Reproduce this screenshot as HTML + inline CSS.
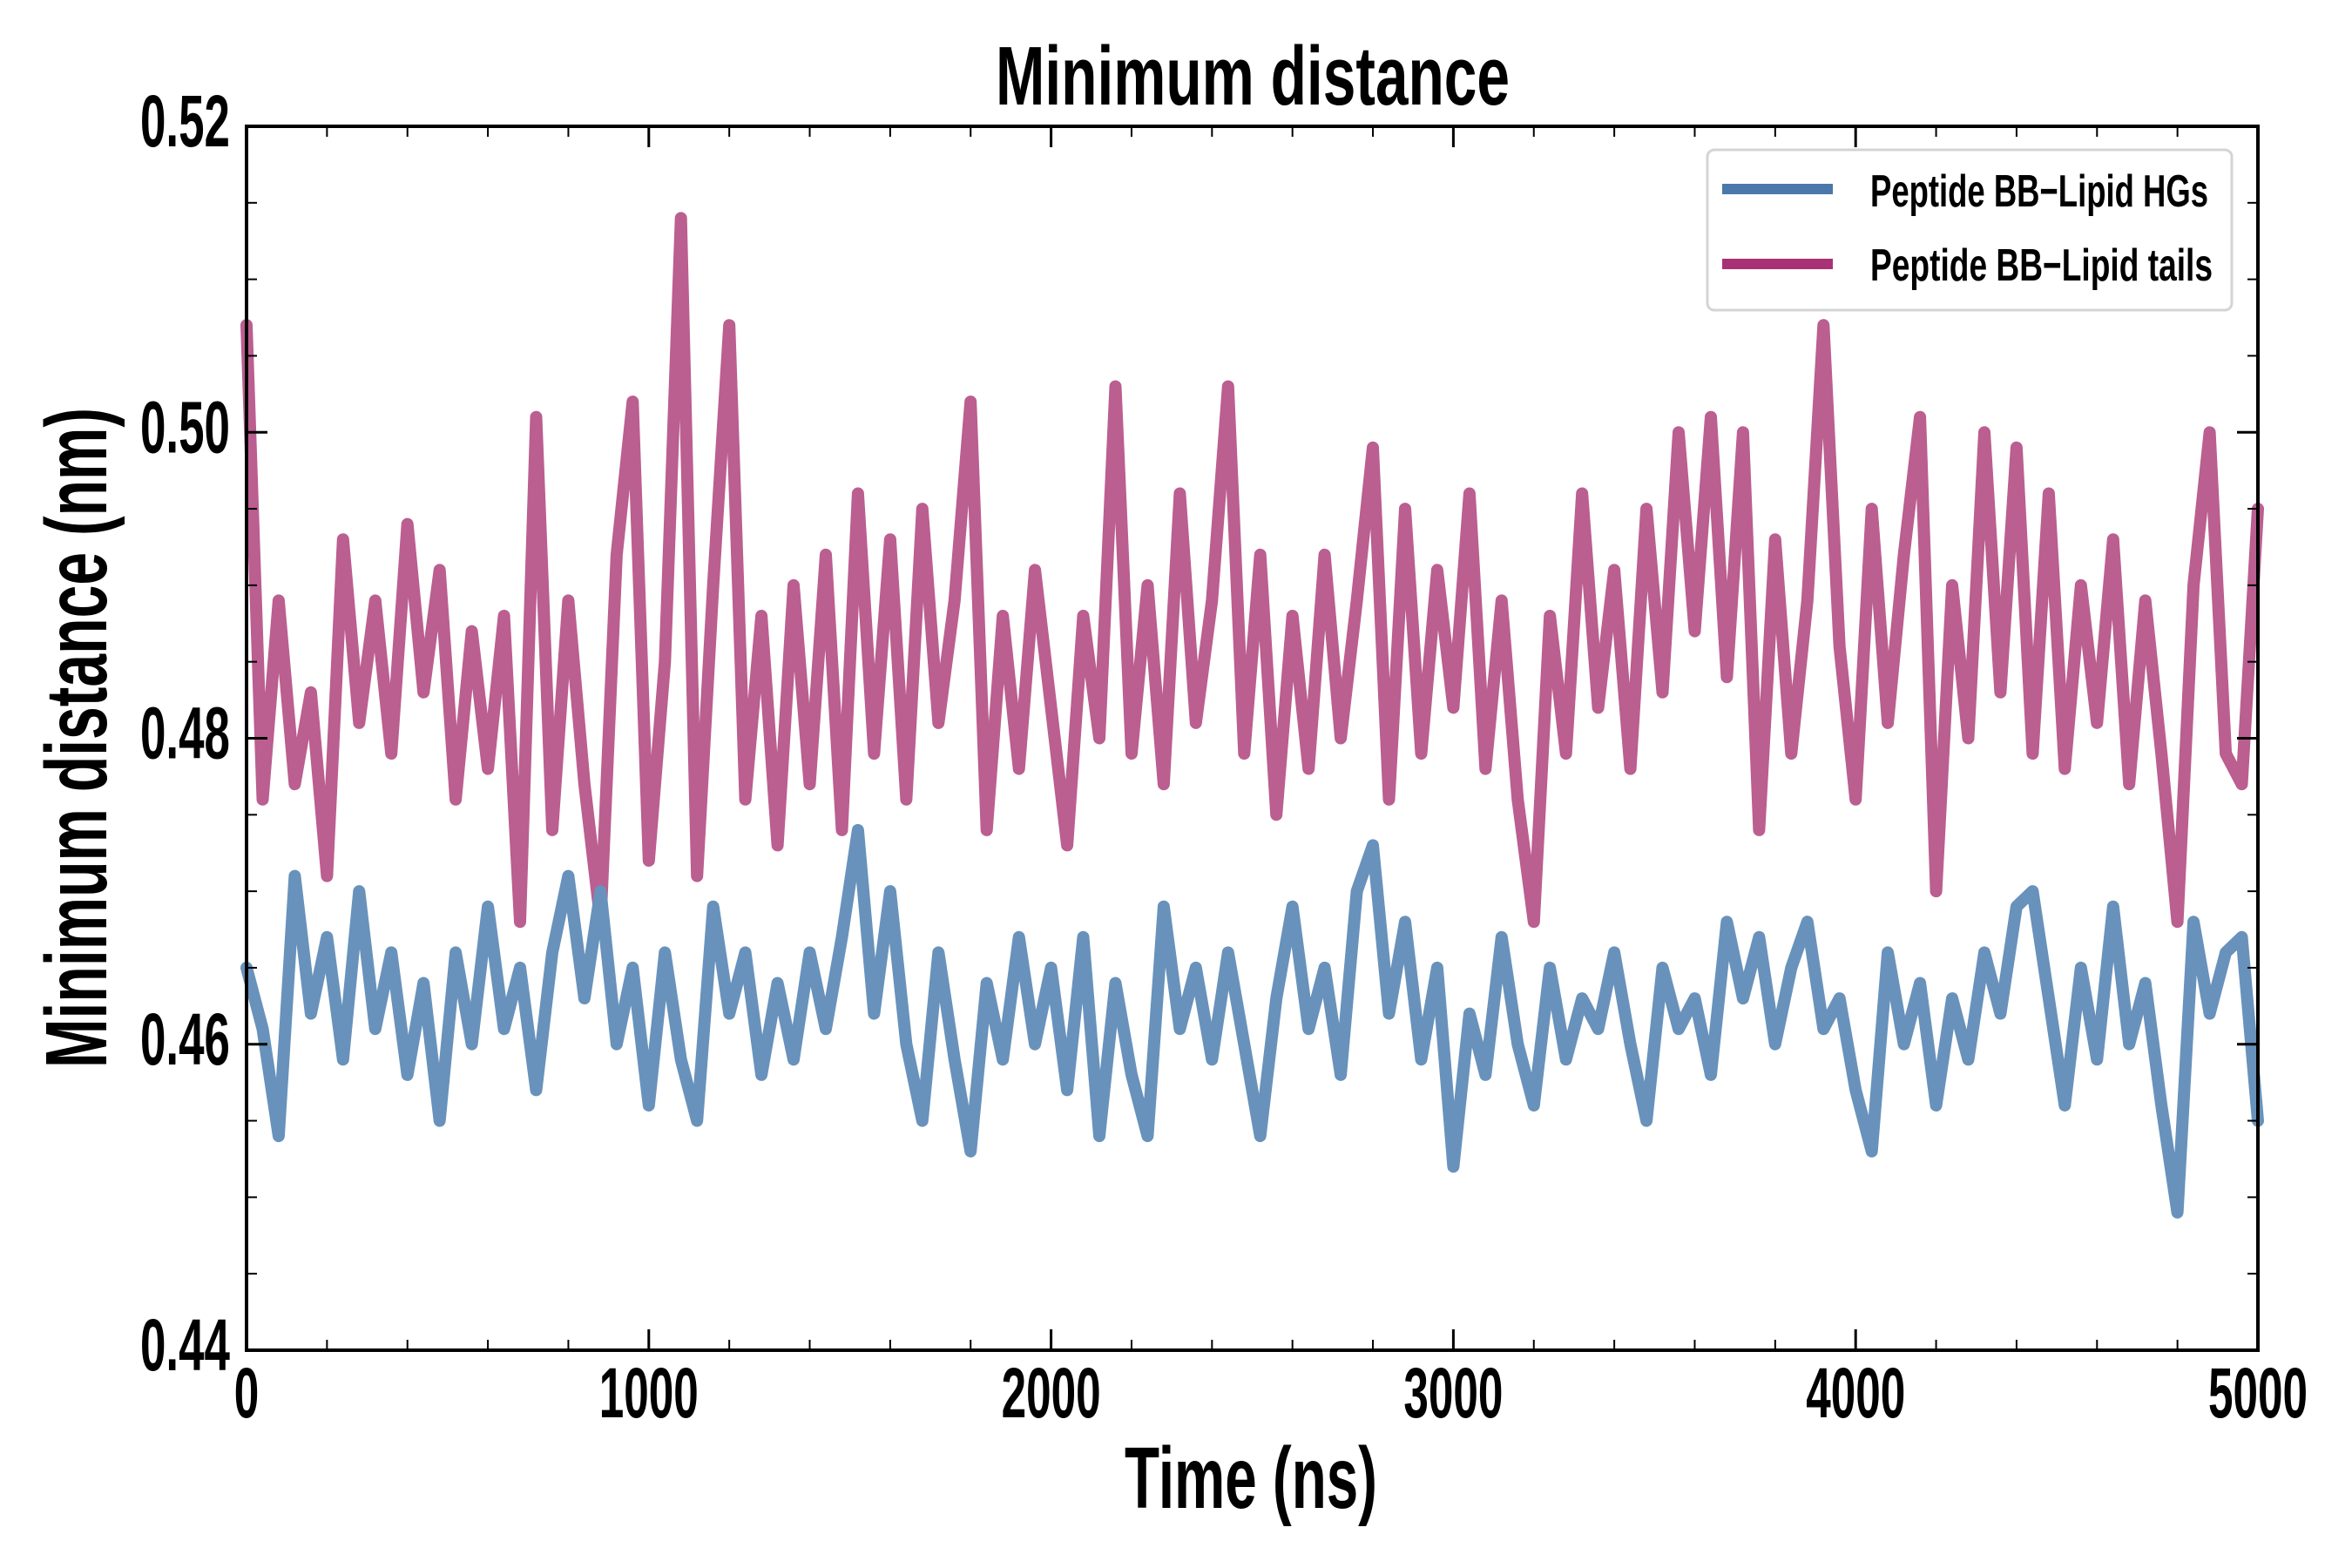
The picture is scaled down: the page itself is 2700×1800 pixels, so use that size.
<!DOCTYPE html>
<html><head><meta charset="utf-8"><style>
html,body{margin:0;padding:0;background:#fff;}
svg{display:block;}
text{font-family:"Liberation Sans Narrow","Liberation Sans",sans-serif;font-weight:bold;fill:#000;}
</style></head><body>
<svg id="chart" width="2700" height="1800" viewBox="0 0 2700 1800" xmlns="http://www.w3.org/2000/svg">
<rect x="0" y="0" width="2700" height="1800" fill="#fff"/>
<g id="series"></g>
<g id="axes"></g>
<text x="1438" y="120" font-size="96" text-anchor="middle" textLength="590" lengthAdjust="spacingAndGlyphs">Minimum distance</text>
<text x="1436" y="1731" font-size="100" text-anchor="middle" textLength="290" lengthAdjust="spacingAndGlyphs">Time (ns)</text>
<text x="0" y="0" font-size="100" text-anchor="middle" textLength="758" lengthAdjust="spacingAndGlyphs" transform="translate(122,847) rotate(-90)">Minimum distance (nm)</text>
<g>
<rect x="1960" y="172" width="602" height="184" rx="8" fill="#fff" stroke="#d4d4d4" stroke-width="3"/>
<line x1="1977" y1="217" x2="2104" y2="217" stroke="#4a78aa" stroke-width="12"/>
<text x="2147" y="237" font-size="52" textLength="388" lengthAdjust="spacingAndGlyphs">Peptide BB−Lipid HGs</text>
<line x1="1977" y1="303" x2="2104" y2="303" stroke="#a83275" stroke-width="12"/>
<text x="2147" y="322" font-size="52" textLength="393" lengthAdjust="spacingAndGlyphs">Peptide BB−Lipid tails</text>
</g>
</svg>
<script>
const timeStep = 40;
const tailsValues = [0.507,0.476,0.489,0.477,0.483,0.471,0.493,0.481,0.489,0.479,0.494,0.483,0.491,0.476,0.487,0.478,0.488,0.468,0.501,0.474,0.489,0.477,0.468,0.492,0.502,0.472,0.485,0.514,0.471,0.490,0.507,0.476,0.488,0.473,0.490,0.477,0.492,0.474,0.496,0.479,0.493,0.476,0.495,0.481,0.489,0.502,0.474,0.488,0.478,0.491,0.482,0.473,0.488,0.480,0.503,0.479,0.490,0.477,0.496,0.481,0.489,0.503,0.479,0.492,0.475,0.488,0.478,0.492,0.480,0.489,0.499,0.476,0.495,0.479,0.491,0.482,0.496,0.478,0.489,0.476,0.468,0.488,0.479,0.496,0.482,0.491,0.478,0.495,0.483,0.500,0.487,0.501,0.484,0.500,0.474,0.493,0.479,0.489,0.507,0.486,0.476,0.495,0.481,0.492,0.501,0.470,0.490,0.480,0.500,0.483,0.499,0.479,0.496,0.478,0.490,0.481,0.493,0.477,0.489,0.479,0.468,0.490,0.500,0.479,0.477,0.495];
const hgsValues = [0.465,0.461,0.454,0.471,0.462,0.467,0.459,0.470,0.461,0.466,0.458,0.464,0.455,0.466,0.460,0.469,0.461,0.465,0.457,0.466,0.471,0.463,0.470,0.460,0.465,0.456,0.466,0.459,0.455,0.469,0.462,0.466,0.458,0.464,0.459,0.466,0.461,0.467,0.474,0.462,0.470,0.460,0.455,0.466,0.459,0.453,0.464,0.459,0.467,0.460,0.465,0.457,0.467,0.454,0.464,0.458,0.454,0.469,0.461,0.465,0.459,0.466,0.460,0.454,0.463,0.469,0.461,0.465,0.458,0.470,0.473,0.462,0.468,0.459,0.465,0.452,0.462,0.458,0.467,0.460,0.456,0.465,0.459,0.463,0.461,0.466,0.460,0.455,0.465,0.461,0.463,0.458,0.468,0.463,0.467,0.460,0.465,0.468,0.461,0.463,0.457,0.453,0.466,0.460,0.464,0.456,0.463,0.459,0.466,0.462,0.469,0.470,0.463,0.456,0.465,0.459,0.469,0.460,0.464,0.456,0.449,0.468,0.462,0.466,0.467,0.455];
const xTickLabels = ["0","1000","2000","3000","4000","5000"];
const yTickLabels = ["0.44","0.46","0.48","0.50","0.52"];

const L=283,R=2592,T=145,B=1550;
const xMin=0,xMax=5000,yMin=0.44,yMax=0.52;
function xs(v){return L+(v-xMin)/(xMax-xMin)*(R-L);}
function ys(v){return B-(v-yMin)/(yMax-yMin)*(B-T);}
const NS="http://www.w3.org/2000/svg";
const seriesG=document.getElementById('series');
const axesG=document.getElementById('axes');
function mk(tag,attrs,parent){const e=document.createElementNS(NS,tag);for(const k in attrs)e.setAttribute(k,attrs[k]);parent.appendChild(e);return e;}

function drawSeries(vals,color,name){
  const pts=vals.map((v,i)=>xs(i*timeStep).toFixed(1)+','+ys(v).toFixed(1)).join(' ');
  const p=mk('polyline',{points:pts,fill:'none',stroke:color,'stroke-width':14,'stroke-linejoin':'round','stroke-linecap':'round'},seriesG);
  
  
}
drawSeries(tailsValues,'#bb5e90','line-lipid-tails');
drawSeries(hgsValues,'#6892bb','line-lipid-hgs');

const frame=mk('rect',{x:L,y:T,width:R-L,height:B-T,fill:'none',stroke:'#000','stroke-width':4},axesG);



for(let t=0;t<=5000;t+=200){
  const major=t%1000===0;const len=major?24:12;
  const x=xs(t);
  const a=mk('line',{x1:x,y1:B,x2:x,y2:B-len,stroke:'#000','stroke-width':major?3:2},axesG);
  
  
  const b=mk('line',{x1:x,y1:T,x2:x,y2:T+len,stroke:'#000','stroke-width':major?3:2},axesG);
  
  
}
xTickLabels.forEach(s=>{
  const v=parseFloat(s);
  const tx=mk('text',{x:xs(v),y:1627,'font-size':82,'text-anchor':'middle',textLength:s.length*28.5,lengthAdjust:'spacingAndGlyphs'},axesG);
  tx.textContent=s;
  
  
});
for(let k=0;k<=16;k++){
  const v=yMin+k*0.005;const major=k%4===0;const len=major?24:12;
  const y=ys(v);
  const a=mk('line',{x1:L,y1:y,x2:L+len,y2:y,stroke:'#000','stroke-width':major?3:2},axesG);
  
  
  const b=mk('line',{x1:R,y1:y,x2:R-len,y2:y,stroke:'#000','stroke-width':major?3:2},axesG);
  
  
}
yTickLabels.forEach(s=>{
  const v=parseFloat(s);
  const tx=mk('text',{x:264,y:ys(v)+23,'font-size':84,'text-anchor':'end',textLength:103,lengthAdjust:'spacingAndGlyphs'},axesG);
  tx.textContent=s;
  
  
});
</script>
</body></html>
